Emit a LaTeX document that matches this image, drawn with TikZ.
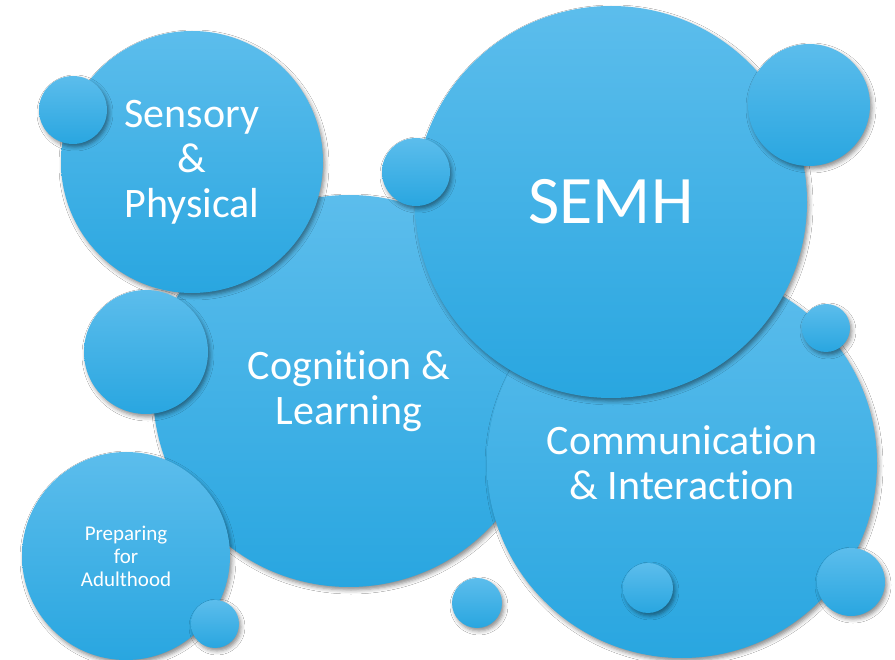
\documentclass[tikz,border=0pt]{standalone}
\usepackage{fontspec}
\setmainfont{Carlito}[Ligatures=NoCommon]
\usetikzlibrary{shadows.blur}
\definecolor{bubbletop}{HTML}{5CBDEC}
\definecolor{bubblebottom}{HTML}{29A6E0}
\tikzset{
  bubble/.style={circle, inner sep=0pt, draw=none,
    top color=bubbletop, bottom color=bubblebottom,
    text=white, align=center,
    blur shadow={shadow xshift=2pt, shadow yshift=-3pt,
                 shadow blur radius=4pt, shadow opacity=45}},
  bigtext/.style={font=\fontsize{42}{45}\selectfont},
  smalltext/.style={font=\fontsize{21}{23}\selectfont},
}
\begin{document}
\begin{tikzpicture}[x=1pt,y=-1pt]
  \fill[white] (0,0) rectangle (895,660);
  \useasboundingbox (0,0) rectangle (895,660);

  % main areas, back to front
  \node[bubble, bigtext, minimum size=392pt] (cog) at (349,391) {Cognition \&\\Learning};
  \node[bubble, bigtext, minimum size=390pt] (comm) at (682,463) {Communication\\\& Interaction};
  \node[bubble, font=\fontsize{68}{72}\selectfont, minimum size=392pt] (semh) at (611,202) {SEMH};
  \node[bubble, bigtext, minimum size=262pt] (sens) at (192,162) {Sensory\\\&\\Physical};
  \node[bubble, smalltext, minimum size=208pt] (pfa) at (126,556) {Preparing\\for\\Adulthood};

  % small decorative bubbles
  \node[bubble, minimum size=68pt] (b1) at (73,110) {};
  \node[bubble, minimum size=68pt] (b2) at (416,172) {};
  \node[bubble, minimum size=122pt] (b3) at (809,105) {};
  \node[bubble, minimum size=124pt] (b4) at (146,352) {};
  \node[bubble, minimum size=48pt] (b5) at (826,328) {};
  \node[bubble, minimum size=50pt] (b6) at (648,588) {};
  \node[bubble, minimum size=68pt] (b7) at (851,582) {};
  \node[bubble, minimum size=50pt] (b8) at (477,603) {};
  \node[bubble, minimum size=48pt] (b9) at (215,624) {};
\end{tikzpicture}
\end{document}
